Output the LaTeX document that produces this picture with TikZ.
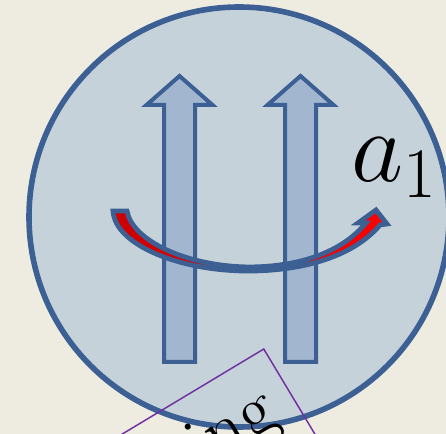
\documentclass[tikz,border=0pt]{standalone}
\usepackage{fix-cm}
\usepackage{xcolor}
\usepackage{tikz}
\usetikzlibrary{calc}

\definecolor{paper}{HTML}{EEECE1}
\definecolor{ballfill}{HTML}{C6D2DA}
\definecolor{spinfill}{HTML}{A2B7CF}
\definecolor{edgeblue}{HTML}{3C6093}
\definecolor{boxpurple}{HTML}{7030A0}

\begin{document}
\begin{tikzpicture}[
    x=0.75pt, y=-0.75pt,
    ball/.style={draw=edgeblue, fill=ballfill, line width=4.2pt},
    spin/.style={draw=edgeblue, fill=spinfill, line width=3pt, line join=miter},
    twist/.style={draw=edgeblue, line width=3.6pt, line join=miter, left color=red!80!black, right color=red},
    frame/.style={draw=boxpurple, line width=1.1pt, rotate=31, minimum width=240pt, minimum height=110pt, inner sep=0pt}
  ]
    \useasboundingbox (0,0) rectangle (446,434);
    \fill[paper] (0,0) rectangle (446,434);
    \clip (0,0) rectangle (446,434);

    % sphere
    \draw[ball] (239,217) circle [radius=157.5pt];

    % the two spins
    \foreach \cx in {179.5,300.5}
      \draw[spin] (\cx,76) -- (\cx+33,105) -- (\cx+15.5,105) -- (\cx+15.5,362)
        -- (\cx-15.5,362) -- (\cx-15.5,105) -- (\cx-33,105) -- cycle;

    % rotation arrow
    \draw[twist] (113,211) -- (127,211) .. controls (132,240) and (185,266) .. (248,267)
      .. controls (300,267) and (342,252) .. (366,223) -- (358,223) -- (376,210)
      -- (387,224) -- (380,225) .. controls (352,258) and (300,271) .. (248,271)
      .. controls (180,271) and (115,245) .. (113,211) -- cycle;

    \node[anchor=base west, inner sep=0pt, font=\fontsize{76}{80}\selectfont] (alabel) at (351,182) {$a_1$};

    % rotated label box
    \node[frame, anchor=north east] (box) at (264,348) {};
    \node[anchor=base east, rotate=31, inner sep=0pt, font=\fontsize{56}{60}\selectfont] (word) at (282,423) {ing};
\end{tikzpicture}
\end{document}
